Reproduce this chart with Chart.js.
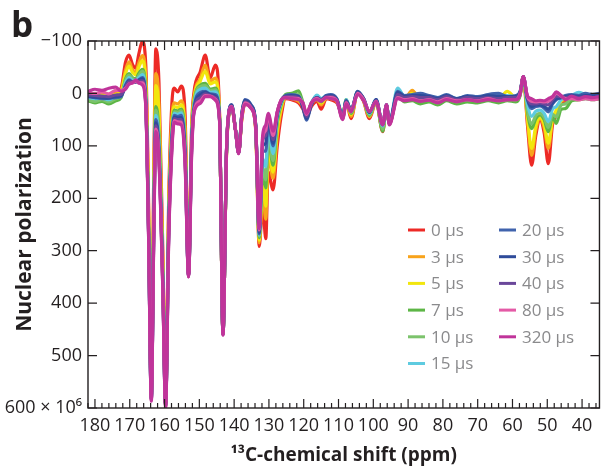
<!DOCTYPE html>
<html>
<head>
<meta charset="utf-8">
<script src="https://cdn.jsdelivr.net/npm/chart.js@4.4.1/dist/chart.umd.min.js"></script>
<style>
  html, body { margin: 0; padding: 0; background: #fff; }
  #wrap { position: relative; width: 603px; height: 467px; }
</style>
</head>
<body>
<div id="wrap"><canvas id="chart"></canvas></div>
<script>
// 13C chemical shift (ppm), shared by all delay series
const ppm = [
  182, 180, 178, 176, 174, 172.5, 171.2, 170.2, 169.2, 168.3,
  167.4, 166.4, 165.4, 164.6, 163.8, 163.1, 162.5, 161.6, 160.5, 159.7,
  158.8, 157.9, 157.2, 156.2, 155.2, 154.1, 153.1, 152.2, 151.5, 149.7,
  148.3, 146.9, 145.4, 144.2, 143.2, 142.2, 141.6, 140.7, 139.6, 138.7,
  137.8, 136.9, 135.1, 133.8, 132.8, 131.8, 130.9, 130.2, 128.8, 127.6,
  126.4, 125.2, 123.5, 121.5, 120.2, 119.2, 117.8, 116.2, 115, 113.5,
  112.2, 110.5, 108.8, 107.8, 106.4, 104.5, 102.8, 101.1, 99.2, 97.3,
  96.2, 95.4, 93, 91, 88.8, 86.5, 84, 81.5, 79, 76,
  73, 70, 67, 64, 61.5, 59, 57.8, 56.9, 55.7, 54.5,
  53.3, 52.1, 50.9, 49.7, 48.5, 47.4, 46, 44.8, 43, 41,
  39, 37, 35
];

// Nuclear polarization (x 10^6) for each delay
const pol0 = [
  0, 3, -2, 2, -3, -10, -60, -73, -55, -48,
  -75, -99, -55, 200, 560, 150, -85, -20, 300, 585,
  200, 20, -10, -3, -14, 40, 340, 60, -4, -42,
  -73, -29, -54, 35, 455, 120, 45, 28, 70, 112,
  50, 20, 28, 70, 292, 215, 277, 150, 184, 100,
  40, 10, 12, 18, 30, 45, 25, 15, 30, 10,
  12, 18, 40, 15, 48, -2, 15, 48, 16, 73,
  25, 58, 5, 12, 8, 14, 10, 18, 8, 16,
  10, 14, 8, 14, 10, 12, 2, -32, 60, 137,
  80, 51, 75, 134, 60, 42, 18, 15, 10, 12,
  8, 10, 8
];
const pol3 = [
  2, 5, 2, 4, 0, -6, -45, -60, -45, -40,
  -58, -72, -30, 220, 565, 180, -38, 20, 320, 588,
  220, 50, 18, 20, 14, 70, 342, 70, 5, -29,
  -54, -23, -29, 40, 456, 118, 44, 27, 70, 112,
  48, 18, 26, 68, 285, 190, 240, 118, 162, 80,
  30, 8, 10, 15, 25, 40, 20, 12, 22, 8,
  10, 15, 40, 14, 44, -2, 14, 45, 15, 70,
  24, 56, 4, 10, -6, 12, 8, 16, 6, 14,
  8, 12, 6, 12, 6, 10, 0, -32, 50, 118,
  70, 48, 65, 105, 52, 36, 15, 12, 8, 10,
  6, 8, 6
];
const pol5 = [
  4, 6, 3, 5, 2, -2, -38, -52, -40, -36,
  -50, -62, -20, 230, 570, 200, -15, 40, 330, 590,
  230, 60, 25, 27, 22, 80, 344, 75, 10, -24,
  -42, -18, -22, 42, 457, 116, 43, 26, 70, 113,
  46, 17, 25, 66, 280, 175, 215, 105, 150, 70,
  25, 6, 8, 12, 22, 38, 18, 10, 18, 8,
  8, 14, 42, 14, 40, -1, 12, 43, 14, 68,
  24, 55, 2, 8, 0, 10, 6, 14, 6, 12,
  6, 10, 4, 10, -4, 8, 0, -32, 45, 105,
  62, 46, 58, 95, 48, 32, 14, 10, 6, 8,
  6, 8, 6
];
const pol7 = [
  14, 18, 15, 20, 14, 8, -28, -38, -30, -28,
  -38, -46, 0, 245, 575, 230, 25, 80, 345, 592,
  245, 75, 32, 33, 30, 95, 345, 85, 18, -16,
  -19, -8, -10, 45, 457, 115, 42, 25, 70, 113,
  44, 16, 25, 64, 275, 150, 180, 86, 137, 55,
  20, 2, 0, -5, 18, 42, 20, 10, 16, 6,
  5, 12, 44, 12, 38, -3, 12, 42, 14, 72,
  26, 56, 6, 16, 14, 20, 16, 22, 14, 20,
  16, 18, 14, 18, 14, 16, 4, -32, 35, 67,
  48, 41, 50, 73, 45, 57, 30, 29, 14, 12,
  10, 12, 10
];
const pol10 = [
  12, 15, 12, 16, 10, 6, -25, -35, -28, -26,
  -34, -42, 5, 250, 578, 240, 32, 90, 350, 593,
  250, 80, 35, 36, 33, 100, 346, 88, 20, -13,
  -15, -5, -7, 46, 458, 114, 42, 25, 70, 113,
  43, 16, 25, 63, 272, 140, 165, 78, 128, 50,
  18, 4, 3, 2, 20, 44, 20, 8, 14, 5,
  4, 12, 44, 12, 36, -2, 12, 40, 14, 68,
  24, 55, 2, 12, 10, 14, 12, 18, 10, 16,
  12, 14, 10, 12, 10, 12, 2, -32, 30, 58,
  42, 38, 45, 65, 40, 45, 22, 20, 10, 10,
  8, 10, 8
];
const pol15 = [
  8, 10, 9, 12, 6, 4, -20, -30, -25, -24,
  -30, -36, 10, 255, 580, 250, 42, 100, 355, 594,
  255, 85, 38, 40, 37, 110, 347, 92, 24, -8,
  -10, -2, -3, 47, 458, 113, 41, 24, 70, 114,
  42, 15, 24, 62, 270, 125, 140, 61, 115, 45,
  16, 5, 6, 6, 22, 46, 18, 3, 10, 4,
  6, 10, 42, 12, 34, 0, 10, 38, 12, 62,
  22, 55, -10, 6, 4, 8, 6, 10, 4, 10,
  6, 8, 4, 6, 4, 6, -2, -32, 20, 44,
  34, 32, 38, 54, 30, 25, 12, 8, 4, -2,
  2, 4, 2
];
const pol20 = [
  6, 8, 10, 9, 8, 6, -16, -26, -22, -22,
  -26, -30, 15, 260, 582, 260, 50, 110, 360, 595,
  260, 90, 42, 44, 42, 115, 348, 96, 28, -2,
  -4, 1, 2, 48, 459, 112, 41, 22, 70, 114,
  40, 12, 22, 60, 268, 110, 110, 50, 100, 40,
  14, 4, 2, 5, 28, 51, 22, 8, 12, 4,
  2, 10, 45, 14, 32, -4, 10, 36, 12, 60,
  22, 56, -4, 4, 2, 0, 4, 8, 2, 10,
  4, 6, 2, 0, 6, 4, -4, -32, 12, 29,
  25, 24, 28, 35, 20, 12, 8, 4, 2, 4,
  0, 2, 0
];
const pol30 = [
  5, 7, 8, 9, 6, 4, -14, -24, -22, -22,
  -25, -28, 18, 262, 583, 265, 56, 115, 365, 596,
  265, 95, 45, 47, 46, 120, 349, 100, 30, 2,
  -2, 2, 5, 49, 459, 112, 40, 22, 70, 114,
  40, 13, 23, 60, 265, 100, 95, 45, 95, 38,
  12, 5, 4, 6, 26, 48, 20, 8, 12, 5,
  4, 12, 46, 14, 32, -3, 10, 36, 12, 58,
  22, 57, -2, 6, 4, 4, 6, 10, 4, 10,
  6, 8, 4, 6, 6, 6, -3, -32, 10, 25,
  22, 22, 25, 30, 18, 10, 8, 6, 4, 6,
  4, 4, 4
];
const pol40 = [
  3, 4, 5, 6, 3, 2, -12, -22, -22, -22,
  -23, -24, 20, 265, 584, 270, 62, 120, 370, 597,
  270, 100, 48, 50, 50, 125, 349, 105, 32, 8,
  1, 4, 8, 50, 460, 111, 40, 24, 70, 114,
  42, 16, 26, 62, 262, 90, 80, 42, 88, 36,
  12, 6, 6, 8, 24, 44, 18, 8, 12, 6,
  6, 12, 47, 16, 32, -1, 10, 35, 14, 58,
  22, 58, 2, 8, 6, 8, 8, 12, 6, 12,
  8, 10, 8, 10, 8, 8, -2, -32, 8, 20,
  20, 18, 20, 22, 12, 5, 6, 8, 6, 8,
  6, 8, 6
];
const pol80 = [
  -2, 0, -3, 1, -6, -6, -10, -18, -20, -24,
  -20, -20, 22, 268, 585, 275, 68, 125, 372, 598,
  275, 105, 52, 54, 55, 130, 350, 110, 34, 14,
  4, 5, 11, 51, 460, 110, 40, 25, 70, 115,
  44, 18, 28, 64, 260, 85, 70, 40, 80, 35,
  12, 8, 9, 10, 20, 40, 18, 10, 14, 8,
  8, 14, 49, 18, 34, 0, 12, 34, 15, 58,
  22, 59, 8, 12, 10, 14, 12, 16, 10, 14,
  12, 14, 10, 14, 12, 12, 0, -32, 6, 15,
  16, 15, 16, 15, 8, 0, 5, 10, 10, 12,
  10, 12, 10
];
const pol320 = [
  -4, -8, -6, -10, -12, -4, -8, -18, -20, -26,
  -20, -16, 25, 270, 587, 280, 73, 130, 375, 600,
  280, 110, 55, 58, 60, 135, 350, 115, 35, 19,
  6, 6, 13, 52, 461, 110, 41, 26, 72, 115,
  46, 21, 29, 65, 258, 80, 60, 38, 72, 35,
  12, 8, 10, 12, 18, 38, 18, 12, 15, 8,
  10, 14, 50, 20, 35, 2, 14, 34, 16, 60,
  22, 60, 10, 14, 12, 15, 13, 18, 12, 16,
  12, 15, 12, 14, 12, 12, 2, -32, 5, 10,
  14, 13, 14, 10, 6, -3, 4, 12, 5, 10,
  6, 8, 6
];

const delayLabels = ['0 µs', '3 µs', '5 µs', '7 µs', '10 µs', '15 µs',
                     '20 µs', '30 µs', '40 µs', '80 µs', '320 µs'];
const series = [pol0, pol3, pol5, pol7, pol10, pol15, pol20, pol30, pol40, pol80, pol320];
const yTicks = [-100, 0, 100, 200, 300, 400, 500, 600];

const lineColors = ['#ed2a26', '#f8a31b', '#f2e60d', '#5db646', '#7cc36c', '#5ecbe0',
                    '#4063ad', '#2f4b9a', '#6a479a', '#e45aa6', '#c0349a'];
const ink = '#231f20';

// Frame with inward ticks on all four sides
const frameTicks = {
    id: 'frameTicks',
    afterDatasetsDraw(chart) {
        const { ctx, chartArea: a, scales: { x, y } } = chart;
        ctx.save();
        ctx.strokeStyle = ink;
        ctx.lineWidth = 1.4;
        ctx.strokeRect(a.left, a.top, a.right - a.left, a.bottom - a.top);
        ctx.lineWidth = 1.2;
        ctx.beginPath();
        x.ticks.forEach(t => {
            const px = x.getPixelForValue(t.value);
            const len = Math.round(t.value) % 10 === 0 ? 9 : 5;
            ctx.moveTo(px, a.bottom); ctx.lineTo(px, a.bottom - len);
            ctx.moveTo(px, a.top); ctx.lineTo(px, a.top + len);
        });
        y.ticks.forEach(t => {
            const py = y.getPixelForValue(t.value);
            ctx.moveTo(a.left, py); ctx.lineTo(a.left + 9, py);
            ctx.moveTo(a.right, py); ctx.lineTo(a.right - 9, py);
        });
        ctx.stroke();
        ctx.restore();
    }
};

// Two-column legend inside the plot, plus panel letter
const sideLegend = {
    id: 'sideLegend',
    afterDraw(chart) {
        const { ctx } = chart;
        ctx.save();
        ctx.font = '17px "Open Sans"';
        ctx.textBaseline = 'middle';
        ctx.lineWidth = 3;
        chart.data.datasets.forEach((ds, i) => {
            const col = i < 6 ? 0 : 1;
            const row = i < 6 ? i : i - 6;
            const sx = col === 0 ? 408 : 499;
            const sy = 230 + row * 26.7;
            ctx.strokeStyle = ds.borderColor;
            ctx.beginPath();
            ctx.moveTo(sx, sy); ctx.lineTo(sx + 17, sy);
            ctx.stroke();
            ctx.fillStyle = '#8a8a8c';
            ctx.fillText(ds.label, sx + 23, sy + 1);
        });
        ctx.fillStyle = ink;
        ctx.font = 'bold 35px "Open Sans"';
        ctx.textBaseline = 'alphabetic';
        ctx.fillText('b', 11, 37);
        ctx.restore();
    }
};

new Chart(document.getElementById('chart'), {
    type: 'line',
    data: {
        datasets: series.map((vals, i) => ({
            label: delayLabels[i],
            data: ppm.map((p, j) => ({ x: p, y: vals[j] })),
            borderColor: lineColors[i],
            backgroundColor: lineColors[i],
            borderWidth: 3.2,
            pointRadius: 0,
            cubicInterpolationMode: 'monotone',
            fill: false,
            order: series.length - 1 - i
        }))
    },
    options: {
        responsive: true,
        maintainAspectRatio: false,
        animation: false,
        layout: { padding: { top: 41, right: 2, left: 0, bottom: 0 } },
        plugins: {
            legend: { display: false },
            tooltip: { enabled: false }
        },
        scales: {
            x: {
                type: 'linear',
                min: 35,
                max: 182,
                reverse: true,
                grid: { display: false, drawTicks: false },
                border: { display: false },
                ticks: {
                    stepSize: 2,
                    autoSkip: false,
                    includeBounds: false,
                    maxRotation: 0,
                    padding: 7,
                    color: ink,
                    font: { family: 'Open Sans', size: 18 },
                    callback: v => (Math.round(v) % 10 === 0 ? String(v) : '')
                },
                title: {
                    display: true,
                    text: '¹³C-chemical shift (ppm)',
                    color: ink,
                    font: { family: 'Open Sans', size: 19, weight: 'bold' },
                    padding: { top: 0, bottom: 0 }
                },
                afterFit: s => { s.height = 59; }
            },
            y: {
                type: 'linear',
                min: -100,
                max: 600,
                reverse: true,
                grid: { display: false, drawTicks: false },
                border: { display: false },
                afterBuildTicks: s => { s.ticks = yTicks.map(v => ({ value: v })); },
                ticks: {
                    padding: 6,
                    color: ink,
                    font: { family: 'Open Sans', size: 18 },
                    callback: v => (v === -100 ? '\u2212100' : v === 600 ? '600 × 10⁶' : String(v))
                },
                title: {
                    display: true,
                    text: 'Nuclear polarization',
                    color: ink,
                    font: { family: 'Open Sans', size: 21, weight: 'bold' },
                    padding: { top: 12, bottom: 0 }
                },
                afterFit: s => { s.width = 88; }
            }
        }
    },
    plugins: [frameTicks, sideLegend]
});
</script>
</body>
</html>
